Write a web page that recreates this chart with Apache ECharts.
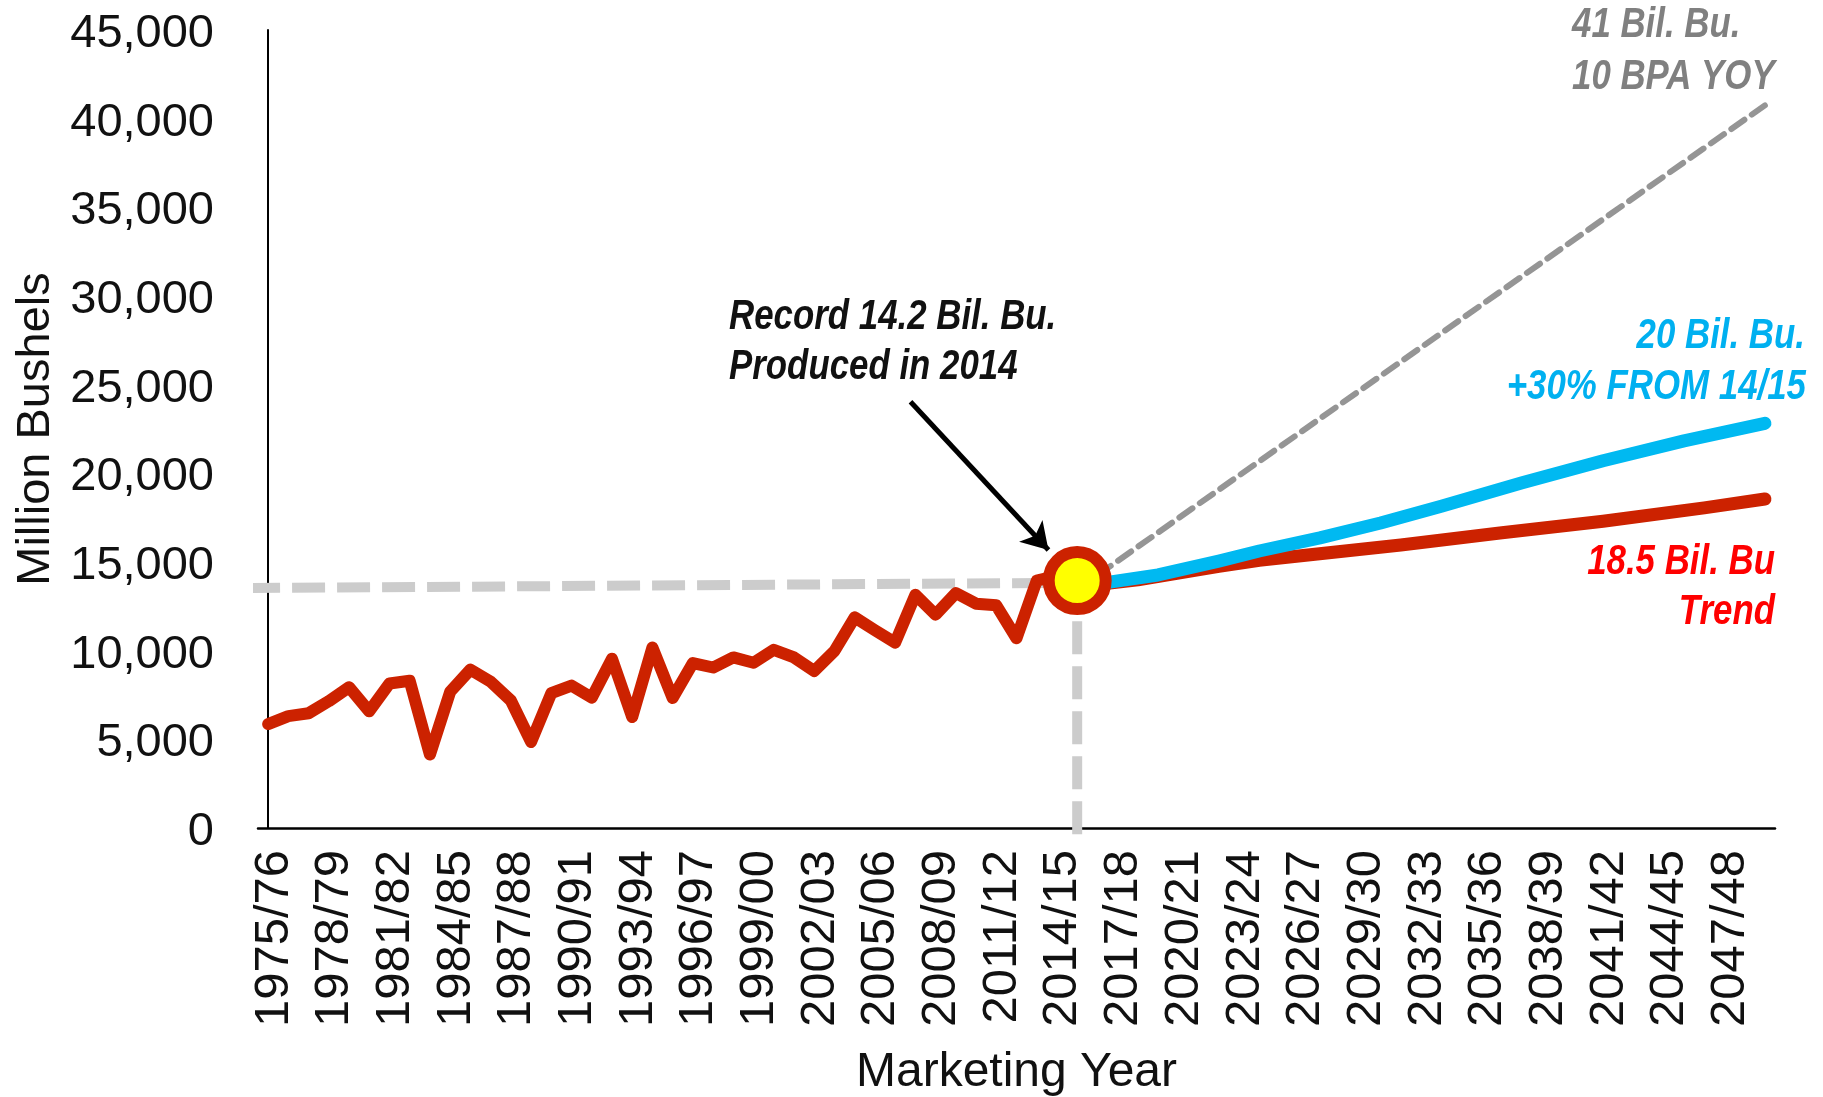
<!DOCTYPE html>
<html>
<head>
<meta charset="utf-8">
<title>U.S. Corn Production and Projections</title>
<script src="https://cdn.jsdelivr.net/npm/echarts@6/dist/echarts.min.js"></script>
<style>
  html, body { margin: 0; padding: 0; background: #ffffff; }
  #chart { width: 1823px; height: 1097px; }
</style>
</head>
<body>
<div id="chart"></div>
<script>
// Marketing years on the category axis
const years = [
  '1975/76','1976/77','1977/78','1978/79','1979/80','1980/81','1981/82','1982/83','1983/84','1984/85',
  '1985/86','1986/87','1987/88','1988/89','1989/90','1990/91','1991/92','1992/93','1993/94','1994/95',
  '1995/96','1996/97','1997/98','1998/99','1999/00','2000/01','2001/02','2002/03','2003/04','2004/05',
  '2005/06','2006/07','2007/08','2008/09','2009/10','2010/11','2011/12','2012/13','2013/14','2014/15',
  '2015/16','2016/17','2017/18','2018/19','2019/20','2020/21','2021/22','2022/23','2023/24','2024/25',
  '2025/26','2026/27','2027/28','2028/29','2029/30','2030/31','2031/32','2032/33','2033/34','2034/35',
  '2035/36','2036/37','2037/38','2038/39','2039/40','2040/41','2041/42','2042/43','2043/44','2044/45',
  '2045/46','2046/47','2047/48','2048/49','2049/50'
];

// Production, million bushels, 1975/76 through 2015/16
const production = [
  5860, 6310, 6470, 7150, 7940, 6580, 8150, 8300, 4140, 7680,
  8930, 8250, 7190, 4850, 7600, 8030, 7350, 9550, 6260, 10180,
  7330, 9300, 9050, 9620, 9320, 10050, 9620, 8850, 9980, 11880,
  11150, 10450, 13150, 12030, 13250, 12650, 12560, 10700, 13950, 14216,
  13600
];

// Trend projection to 18.5 billion bushels
const trendYears  = ['2015/16','2018/19','2022/23','2024/25','2031/32','2036/37','2041/42','2046/47','2049/50'];
const trendValues = [13600, 14000, 14750, 15100, 15960, 16650, 17300, 18050, 18550];

// Higher-yield projection (+30% from 14/15)
const highYears  = ['2015/16','2019/20','2022/23','2024/25','2027/28','2030/31','2033/34','2037/38','2041/42','2045/46','2049/50'];
const highValues = [13600, 14270, 15050, 15620, 16360, 17200, 18150, 19470, 20710, 21830, 22820];

// 10 bushels-per-acre yearly yield gain scenario
const yoyYears  = ['2015/16','2049/50'];
const yoyValues = [13450, 40750];

// Record marker
const recordYear = '2015/16';
const recordValue = 13950;

// Guide lines to the record marker (x in category-index units)
const guideH = [[-1.04, 13530], [40, 13830]];
const guideV = [[40, -355], [40, 13950]];
// Callout arrow
const arrowFrom = [31.76, 24040];
const arrowTo = [38.58, 15676];

const RED = '#CC2200';
const BLUE = '#00B9F1';
const GRAY_LINE = '#959595';
const GUIDE = '#CCCCCC';
const AXIS_FONT = '"Liberation Sans", Arial, Helvetica, sans-serif';
const NOTE_FONT = '"Liberation Sans", Arial, sans-serif';

function pairs(xs, ys) { return xs.map((x, i) => [x, ys[i]]); }

const chart = echarts.init(document.getElementById('chart'), null, { renderer: 'canvas' });

// Condensed bold-italic callout text, anchored at (x, y)
function note(text, x, y, color, align) {
  return {
    type: 'text', x: x, y: y, z: 100, scaleX: 0.85, scaleY: 1.02,
    style: {
      text: text, fill: color,
      font: 'italic bold 41px ' + NOTE_FONT,
      align: align, verticalAlign: 'middle'
    }
  };
}

const option = {
  animation: false,
  backgroundColor: '#ffffff',
  grid: {
    left: 258, right: 48, top: 30, bottom: 269,
    containLabel: false, outerBoundsMode: 'none'
  },
  xAxis: [
    {
      type: 'category',
      data: years,
      boundaryGap: true,
      name: 'Marketing Year',
      nameLocation: 'middle',
      nameGap: 221,
      nameTextStyle: { fontFamily: AXIS_FONT, fontSize: 48, color: '#111111' },
      axisLine: { lineStyle: { color: '#000000', width: 2.5 } },
      axisTick: { show: false },
      axisLabel: {
        interval: 2, rotate: 90, margin: 22,
        formatter: v => '{t|' + v + '}',
        rich: { t: { padding: [12, 0, 0, 0], fontFamily: AXIS_FONT, fontSize: 49, color: '#111111' } },
        fontFamily: AXIS_FONT, fontSize: 49, color: '#111111'
      },
      splitLine: { show: false }
    },
    {
      type: 'value', min: -0.5, max: 74.5, show: false
    }
  ],
  yAxis: {
    type: 'value', min: 0, max: 45000, interval: 5000,
    name: 'Million Bushels',
    nameLocation: 'middle',
    nameGap: 198,
    nameTextStyle: { fontFamily: AXIS_FONT, fontSize: 47, color: '#111111' },
    axisLine: { show: true, lineStyle: { color: '#000000', width: 2 } },
    axisTick: { show: false },
    splitLine: { show: false },
    axisLabel: {
      margin: 44,
      formatter: v => '{v|' + v.toLocaleString('en-US') + '}',
      rich: { v: { padding: [8, 0, 0, 0], fontFamily: AXIS_FONT, fontSize: 47, color: '#111111' } },
      fontFamily: AXIS_FONT, fontSize: 47, color: '#111111'
    }
  },
  series: [
    {
      name: 'guideH', type: 'line', xAxisIndex: 1, data: guideH,
      symbol: 'none', clip: false, silent: true, z: 1,
      lineStyle: { color: GUIDE, width: 10, type: [33, 12], cap: 'butt' }
    },
    {
      name: 'guideV', type: 'line', xAxisIndex: 1, data: guideV,
      symbol: 'none', clip: false, silent: true, z: 1,
      lineStyle: { color: GUIDE, width: 10, type: [33, 12], cap: 'butt' },
      markLine: {
        silent: true, symbol: ['none', 'arrow'], symbolSize: [24, 26],
        label: { show: false },
        lineStyle: { color: '#000000', width: 5, type: 'solid' },
        data: [[{ coord: arrowFrom }, { coord: arrowTo }]]
      }
    },
    {
      name: '10 BPA YOY', type: 'line', data: pairs(yoyYears, yoyValues),
      connectNulls: true, symbol: 'none', z: 2,
      lineStyle: { color: GRAY_LINE, width: 6, type: [16, 9], cap: 'round' }
    },
    {
      name: 'Production', type: 'line', data: production,
      symbol: 'none', z: 3,
      lineStyle: { color: RED, width: 12, cap: 'round', join: 'round' }
    },
    {
      name: 'Trend', type: 'line', data: pairs(trendYears, trendValues),
      connectNulls: true, symbol: 'none', z: 4,
      lineStyle: { color: RED, width: 13, cap: 'round', join: 'round' }
    },
    {
      name: '+30%', type: 'line', data: pairs(highYears, highValues),
      connectNulls: true, symbol: 'none', z: 5,
      lineStyle: { color: BLUE, width: 13, cap: 'round', join: 'round' }
    },
    {
      name: 'Record', type: 'scatter', data: [[recordYear, recordValue]],
      symbol: 'circle', symbolSize: 57, z: 10, clip: false,
      itemStyle: { color: '#FFFF00', borderColor: RED, borderWidth: 12, opacity: 1 }
    }
  ],
  graphic: [
    note('Record 14.2 Bil. Bu.', 729, 317, '#111111', 'left'),
    note('Produced in 2014', 729, 367, '#111111', 'left'),
    note('41 Bil. Bu.', 1572, 25, '#808080', 'left'),
    note('10 BPA YOY', 1572, 77, '#808080', 'left'),
    note('20 Bil. Bu.', 1805, 336, '#00B0F0', 'right'),
    note('+30% FROM 14/15', 1806, 387, '#00B0F0', 'right'),
    note('18.5 Bil. Bu', 1775, 562, '#FF0000', 'right'),
    note('Trend', 1775, 612, '#FF0000', 'right')
  ]
};

chart.setOption(option);
</script>
</body>
</html>
